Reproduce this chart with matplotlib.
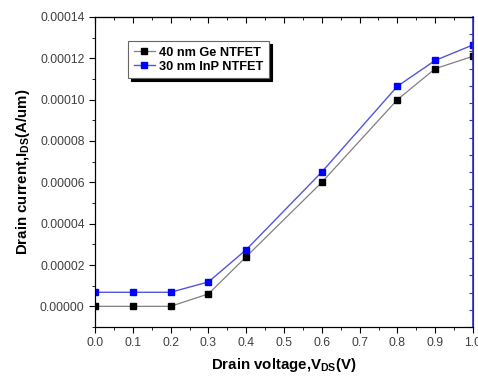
import matplotlib.pyplot as plt
from matplotlib.ticker import MultipleLocator

# drain voltage (V) and drain current (A/um)
vds = [0.0, 0.1, 0.2, 0.3, 0.4, 0.6, 0.8, 0.9, 1.0]
ge_ids = [0.0, 0.0, 0.0, 0.6e-5, 2.4e-5, 6.0e-5, 10.0e-5, 11.5e-5, 12.1e-5]
inp_ids = [0.68e-5, 0.68e-5, 0.68e-5, 1.18e-5, 2.74e-5, 6.5e-5, 10.65e-5, 11.9e-5, 12.65e-5]
labels = ['40 nm Ge NTFET', '30 nm InP NTFET']

plt.rcParams['font.family'] = ['Liberation Sans', 'DejaVu Sans']

fig = plt.figure(figsize=(4.78, 3.77), dpi=100)
ax = fig.add_axes([95 / 478, 50 / 377, 378 / 478, 310 / 377])

ax.plot(vds, ge_ids, color='#808080', lw=0.9, marker='s', ms=4,
        mfc='black', mec='black', label=labels[0])
ax.plot(vds, inp_ids, color='#5555dd', lw=1.0, marker='s', ms=4,
        mfc='#0000ff', mec='#0000ff', label=labels[1])

ax.set_xlim(0, 1.0)
ax.set_ylim(-0.00001, 0.00014)
ax.xaxis.set_major_locator(MultipleLocator(0.1))
ax.xaxis.set_minor_locator(MultipleLocator(0.05))
ax.yaxis.set_major_locator(MultipleLocator(0.00002))
ax.yaxis.set_minor_locator(MultipleLocator(0.00001))
ax.xaxis.set_major_formatter(plt.FuncFormatter(lambda v, p: f'{v:.1f}'))
ax.yaxis.set_major_formatter(plt.FuncFormatter(lambda v, p: f'{v:.5f}'))

ax.tick_params(which='both', direction='out', labelsize=8.7, labelcolor='#404040',
               top=False, right=False)
ax.tick_params(which='major', length=4)
ax.tick_params(which='minor', length=2.5)

# mirrored inward ticks along the top
top = ax.secondary_xaxis('top')
top.xaxis.set_major_locator(MultipleLocator(0.1))
top.xaxis.set_minor_locator(MultipleLocator(0.05))
top.tick_params(which='both', direction='in', labeltop=False)
top.tick_params(which='major', length=4)
top.tick_params(which='minor', length=2.5)

# blue right axis
ax2 = ax.twinx()
ax2.set_ylim(0, 18)
ax2.yaxis.set_major_locator(MultipleLocator(1))
ax2.tick_params(axis='y', direction='in', length=3, color='#3030c0', labelright=False)
ax2.spines['right'].set_color('#3030c0')
ax2.spines['right'].set_linewidth(1.2)

ax.set_xlabel('Drain voltage,V$_{\\mathregular{DS}}$(V)', fontsize=10.8, fontweight='bold', labelpad=5)
ax.set_ylabel('Drain current,I$_{\\mathregular{DS}}$(A/um)', fontsize=10.8, fontweight='bold', labelpad=6)

leg = ax.legend(loc='upper left', bbox_to_anchor=(0.087, 0.923),
                prop={'weight': 'bold', 'size': 9.2}, handlelength=1.7, handletextpad=0.3,
                borderpad=0.45, labelspacing=0.15, borderaxespad=0, fancybox=False,
                shadow={'color': 'black', 'alpha': 1}, framealpha=1, edgecolor='#666666')
leg.get_frame().set_linewidth(0.8)

fig.savefig('out.png', dpi=100)
